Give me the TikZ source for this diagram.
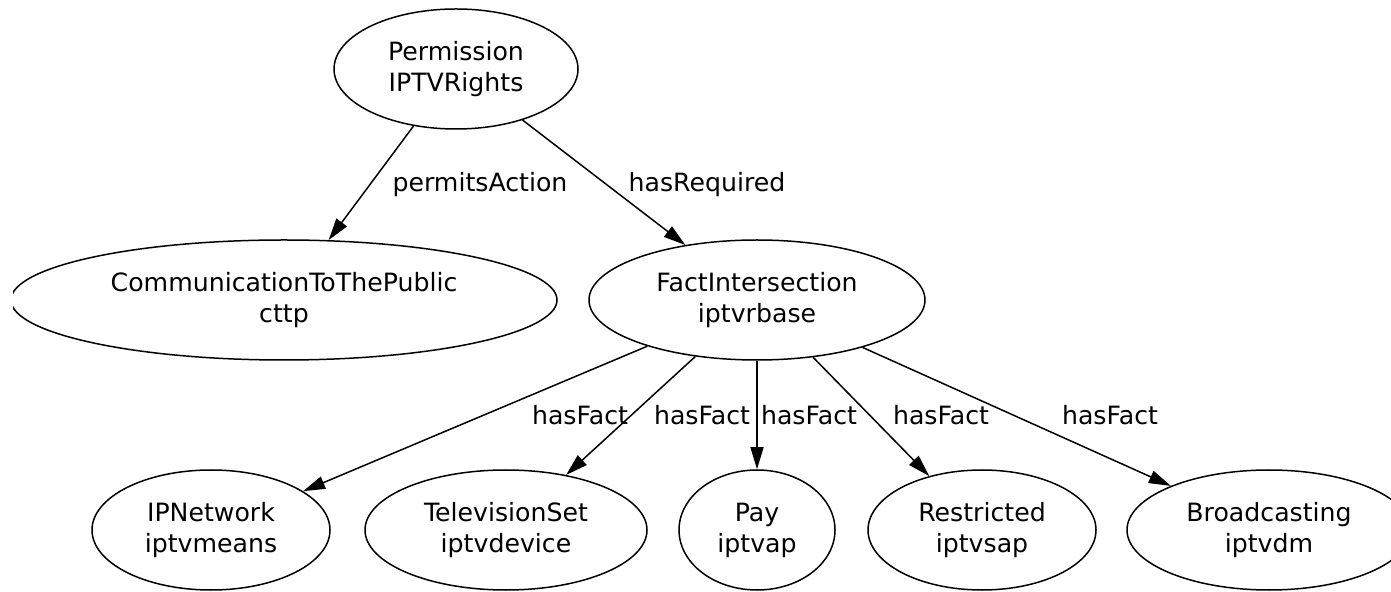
\documentclass[tikz,border=0pt]{standalone}
\usepackage{fontspec}
\setmainfont{DejaVu Sans}
\usetikzlibrary{arrows.meta,shapes.geometric}

\begin{document}
\begin{tikzpicture}[x=0.5pt,y=-0.5pt,
    every node/.style={font=\fontsize{12.6}{15.5}\selectfont},
    class/.style={ellipse,draw,line width=0.75pt,inner sep=0pt,align=center,minimum height=60pt},
    rel/.style={-{Triangle[length=11pt,width=6.5pt]},line width=0.75pt},
    lbl/.style={inner sep=0pt}]
    \useasboundingbox (0,0) rectangle (1391,592);
    \clip (13,0) rectangle (1391,592);
    \node[class,minimum width=122pt] (perm) at (456,69) {Permission\\IPTVRights};
    \node[class,minimum width=273pt] (cttp) at (284,300) {CommunicationToThePublic\\cttp};
    \node[class,minimum width=168pt] (fact) at (757,300) {FactIntersection\\iptvrbase};
    \node[class,minimum width=119pt] (ipn) at (211,530) {IPNetwork\\iptvmeans};
    \node[class,minimum width=141pt] (tvs) at (506,530) {TelevisionSet\\iptvdevice};
    \node[class,minimum width=78pt] (pay) at (757,530) {Pay\\iptvap};
    \node[class,minimum width=114pt] (rst) at (982,530) {Restricted\\iptvsap};
    \node[class,minimum width=142pt] (brd) at (1269,530) {Broadcasting\\iptvdm};
    \draw[rel] (perm) -- (cttp);
    \draw[rel] (perm) -- (fact);
    \foreach \n in {ipn,tvs,pay,rst,brd}
        \draw[rel] (fact) -- (\n);
    \node[lbl] (lpa) at (480,185) {permitsAction};
    \node[lbl] (lhr) at (707,185) {hasRequired};
    \foreach \x/\n in {580/ipn,702/tvs,809/pay,941/rst,1110/brd}
        \node[lbl] (l\n) at (\x,415) {hasFact};
\end{tikzpicture}
\end{document}
